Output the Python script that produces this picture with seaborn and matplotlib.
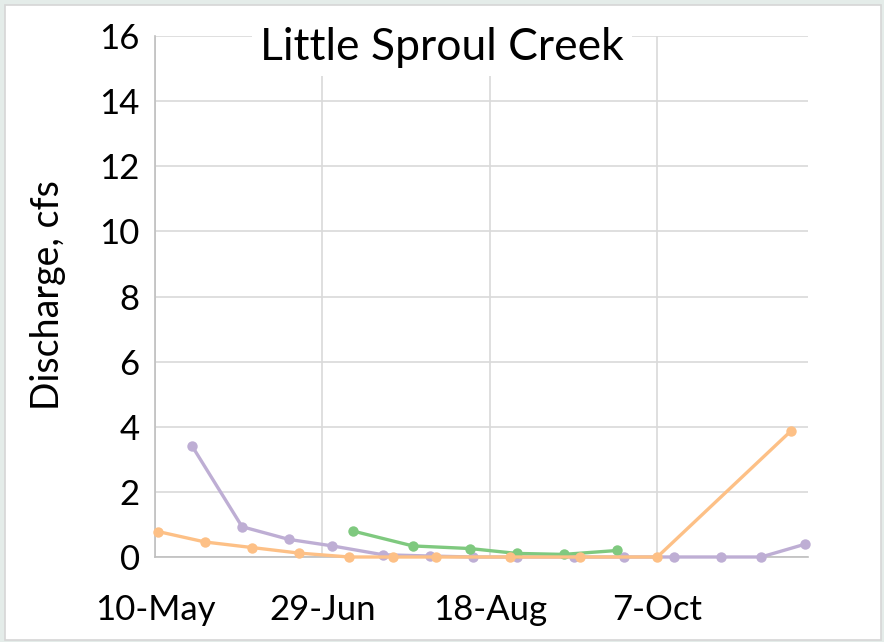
import pandas as pd
import seaborn as sns
import matplotlib.pyplot as plt
import matplotlib.dates as mdates
from matplotlib.patches import Rectangle

# readings taken off the chart (year is arbitrary)
purple_dates = ["2021-05-21", "2021-06-05", "2021-06-19", "2021-07-02", "2021-07-17",
                "2021-07-31", "2021-08-13", "2021-08-26", "2021-09-12", "2021-09-27",
                "2021-10-12", "2021-10-26", "2021-11-07", "2021-11-20"]
purple_cfs = [3.42, 0.93, 0.54, 0.34, 0.07, 0.03, 0.0, 0.0, 0.0, 0.0, 0.0, 0.0, 0.0, 0.39]

orange_dates = ["2021-05-11", "2021-05-25", "2021-06-08", "2021-06-22", "2021-07-07",
                "2021-07-20", "2021-08-02", "2021-08-24", "2021-09-14", "2021-10-07",
                "2021-11-16"]
orange_cfs = [0.78, 0.46, 0.29, 0.12, 0.0, 0.0, 0.0, 0.0, 0.0, 0.0, 3.88]

green_dates = ["2021-07-08", "2021-07-26", "2021-08-12", "2021-08-26", "2021-09-09",
               "2021-09-25"]
green_cfs = [0.80, 0.34, 0.26, 0.11, 0.08, 0.20]

tick_dates = ["2021-05-10", "2021-06-29", "2021-08-18", "2021-10-07"]
x_end = "2021-11-21"

COLORS = {"purple": "#beaed4", "orange": "#fdc086", "green": "#7fc97f"}

sns.set_theme(style="white")
plt.rcParams['font.family'] = ['Lato', 'DejaVu Sans']
plt.rcParams['text.color'] = 'black'

fig = plt.figure(figsize=(8.84, 6.42), dpi=100)
fig.patch.set_facecolor("#e4ece9")
fig.patches.append(Rectangle((5 / 884, 2 / 642), 876 / 884, 635 / 642,
                             transform=fig.transFigure, facecolor="white",
                             edgecolor="#d6d6d6", linewidth=1.2, zorder=-10))

ax = fig.add_axes([155 / 884, 1 - 557 / 642, (808 - 155) / 884, (557 - 36) / 642])
ax.set_facecolor("none")

series = [("purple", purple_dates, purple_cfs),
          ("green", green_dates, green_cfs),
          ("orange", orange_dates, orange_cfs)]
for name, dates, vals in series:
    df = pd.DataFrame({"date": pd.to_datetime(dates), "cfs": vals})
    sns.lineplot(data=df, x="date", y="cfs", ax=ax, color=COLORS[name],
                 linewidth=2.4, marker="o", markersize=7.5, markeredgewidth=0,
                 clip_on=False, zorder=3)

ax.set_xlim(pd.Timestamp(tick_dates[0]), pd.Timestamp(x_end))
ax.set_ylim(0, 16)
ax.set_yticks(range(0, 17, 2))
ax.set_xticks(pd.to_datetime(tick_dates))
ax.xaxis.set_major_formatter(mdates.DateFormatter("%-d-%b"))

ax.grid(True, color="#d9d9d9", linewidth=1.2)
ax.set_axisbelow(True)
for side in ["top", "right"]:
    ax.spines[side].set_visible(False)
for side in ["left", "bottom"]:
    ax.spines[side].set_color("#bfbfbf")
    ax.spines[side].set_linewidth(1.2)

ax.tick_params(axis="both", length=0, labelsize=25, colors="black")
ax.tick_params(axis="y", pad=11)
ax.tick_params(axis="x", pad=27)
ax.set_xlabel("")
ax.set_ylabel("")
fig.text(48 / 884, 1 - 295 / 642, "Discharge, cfs", rotation=90, ha="center",
         va="center", fontsize=27)

fig.text(0.5, 1 - 47 / 642, "Little Sproul Creek", ha="center", va="center",
         fontsize=32, zorder=10,
         bbox=dict(facecolor="white", edgecolor="none", pad=6))

fig.savefig("out.png", dpi=100, facecolor=fig.get_facecolor())
